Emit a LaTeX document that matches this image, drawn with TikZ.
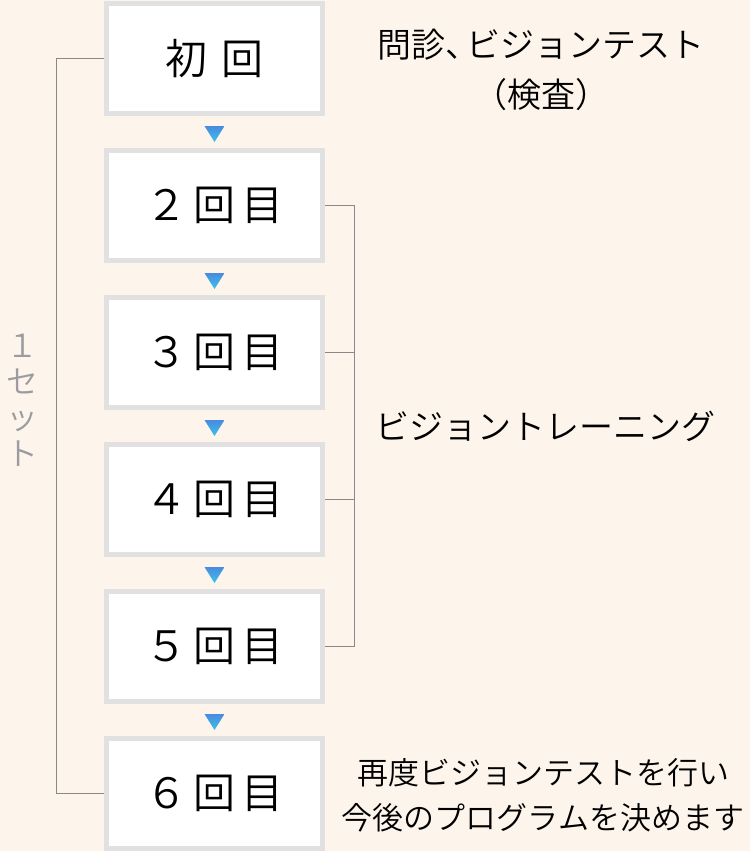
\documentclass[tikz,border=0pt]{standalone}
\usepackage{fontspec}
\setmainfont{Noto Sans CJK JP DemiLight}
\usepackage{xcolor}
\definecolor{bgcolor}{HTML}{FDF5EC}
\definecolor{boxborder}{HTML}{E0E1E0}
\definecolor{linecolor}{HTML}{8C8888}
\definecolor{setcolor}{HTML}{9C9CA0}
\definecolor{arrowtop}{HTML}{4A8AE0}
\definecolor{arrowbottom}{HTML}{3CC2E8}
\usetikzlibrary{positioning}

\tikzset{
  stagebox/.style={draw=boxborder, line width=5pt, fill=white, minimum width=216pt,
    minimum height=110pt, inner sep=0pt, font=\fontsize{42}{50}\selectfont},
  bracketline/.style={draw=linecolor, line width=1pt},
  notetext/.style={align=center, text=black, font=\fontsize{34}{50}\selectfont},
}

\begin{document}
\begin{tikzpicture}[x=1pt, y=-1pt]
  \fill[bgcolor] (0,0) rectangle (750,851);
  \useasboundingbox (0,0) rectangle (750,851);

  % stages
  \node[stagebox] (first)  at (214.5, 58.5)  {初\hspace{14pt}回};
  \node[stagebox] (second) at (214.5, 205.5) {２\hspace{6pt}回\hspace{6pt}目\hspace{4pt}};
  \node[stagebox] (third)  at (214.5, 352.5) {３\hspace{6pt}回\hspace{6pt}目\hspace{4pt}};
  \node[stagebox] (fourth) at (214.5, 499.5) {４\hspace{6pt}回\hspace{6pt}目\hspace{4pt}};
  \node[stagebox] (fifth)  at (214.5, 646.5) {５\hspace{6pt}回\hspace{6pt}目\hspace{4pt}};
  \node[stagebox] (sixth)  at (214.5, 793.5) {６\hspace{6pt}回\hspace{6pt}目\hspace{4pt}};

  % small triangles between stages
  \foreach \y in {126,273,420,567,714}
    \shade[top color=arrowtop, bottom color=arrowbottom]
      (204.5,\y) -- (224.5,\y) -- (214.5,\y+16) -- cycle;

  % brackets
  \draw[bracketline] (first.west) -- ++(-48,0) |- (sixth.west);
  \draw[bracketline] (second.east) -- ++(29,0) |- (fifth.east);
  \draw[bracketline] (third.east) -- ++(29,0);
  \draw[bracketline] (fourth.east) -- ++(29,0);

  % notes
  \node[notetext] (exam) at (541, 70) {問診、\kern-0.4em ビジョンテスト\\（検査）};
  \node[notetext] (training) at (545, 426) {ビジョントレーニング};
  \node[notetext, font=\fontsize{31}{45}\selectfont] (retest) at (543, 795)
    {再度ビジョンテストを行い\\今後のプログラムを決めます};
  \node[align=center, text=setcolor, inner sep=0pt, font=\fontsize{32}{36}\selectfont]
    (oneset) at (22, 400) {１\\セ\\ッ\\ト};
\end{tikzpicture}
\end{document}
